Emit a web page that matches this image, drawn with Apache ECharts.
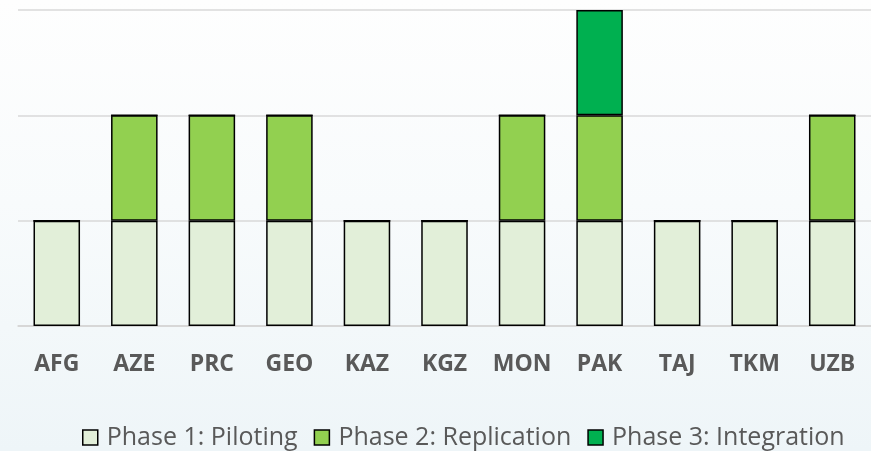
<!DOCTYPE html>
<html>
<head>
<meta charset="utf-8">
<script src="https://cdn.jsdelivr.net/npm/echarts@6/dist/echarts.min.js"></script>
<style>
  html, body { margin: 0; padding: 0; }
  #chart { width: 871px; height: 451px; background: linear-gradient(180deg, #fefefe 0%, #f8fbfc 45%, #eef5f8 100%); }
</style>
</head>
<body>
<div id="chart"></div>
<script>
const countries = ['AFG','AZE','PRC','GEO','KAZ','KGZ','MON','PAK','TAJ','TKM','UZB']
const phase1 = [1,1,1,1,1,1,1,1,1,1,1]
const phase2 = [0,1,1,1,0,0,1,1,0,0,1]
const phase3 = [0,0,0,0,0,0,0,1,0,0,0]

const names = ['Phase 1: Piloting','Phase 2: Replication','Phase 3: Integration']
const colors = ['#e2efd9','#92d050','#00b050']
const tx = '#595959'

const chart = echarts.init(document.getElementById('chart'))

function bar(i, data) {
  return {
    name: names[i], type: 'bar', stack: 'phase', data,
    barWidth: '60%',
    itemStyle: { color: colors[i], borderColor: '#000', borderWidth: 1.5 },
  }
}

chart.setOption({
  animation: false,
  grid: { left: 18, right: -2, top: 10, bottom: 125 },
  legend: {
    bottom: -4, left: 77,
    itemWidth: 15, itemHeight: 15, itemGap: 16,
    icon: 'rect',
    itemStyle: { borderColor: '#000', borderWidth: 1.5 },
    textStyle: { color: tx, fontSize: 25, fontFamily: 'Open Sans', padding: [0, 0, 0, 4] },
    data: names,
  },
  xAxis: {
    type: 'category', data: countries,
    axisLine: { lineStyle: { color: '#d4d4d4', width: 1.5 } },
    axisTick: { show: false },
    axisLabel: { color: tx, fontSize: 23, fontWeight: 'bold', fontFamily: 'Open Sans', margin: 27, interval: 0 },
  },
  yAxis: {
    type: 'value', min: 0, max: 3, interval: 1,
    axisLabel: { show: false },
    splitLine: { lineStyle: { color: '#d9d9d9', width: 1.5 } },
  },
  series: [bar(0, phase1), bar(1, phase2), bar(2, phase3)],
})
</script>
</body>
</html>
